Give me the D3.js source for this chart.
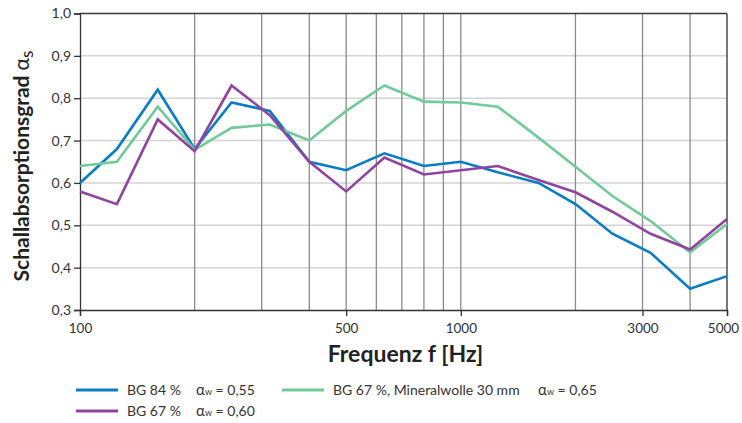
<!DOCTYPE html>
<html><head><meta charset="utf-8">
<script src="https://cdn.jsdelivr.net/npm/d3@7"></script>
<style>
body{margin:0;background:#fff;}
text{font-family:Lato,"Noto Sans",sans-serif;}
</style></head>
<body><svg id="c" width="742" height="423"></svg>
<script>
const freqs = [100,125,160,200,250,315,400,500,630,800,1000,1250,1600,2000,2500,3150,4000,5000];
const bg84 = [0.60,0.68,0.82,0.68,0.79,0.77,0.65,0.63,0.67,0.64,0.65,0.625,0.60,0.55,0.48,0.435,0.35,0.38];
const bg67 = [0.58,0.55,0.75,0.675,0.83,0.76,0.65,0.58,0.66,0.62,0.63,0.64,0.607,0.578,0.532,0.48,0.443,0.515];
const bg67mw = [0.64,0.65,0.78,0.678,0.73,0.738,0.70,0.77,0.83,0.792,0.79,0.78,0.707,0.638,0.569,0.51,0.436,0.503];
const xGrid = [200,300,400,500,600,700,800,900,1000,2000,3000,4000];
const xTicks = [100,500,1000,3000,5000];
const yTicks = [0.3,0.4,0.5,0.6,0.7,0.8,0.9,1.0];
const seriesNames = ["BG 84 %","BG 67 %","BG 67 %, Mineralwolle 30 mm"];
const seriesAlpha = ["0,55","0,60","0,65"];
const colors = ["#0a7cc4","#8f45a0","#72c99a"];

const svg = d3.select("#c");
const L=80,R=727,T=13.5,B=310;
const x = d3.scaleLog().domain([100,5000]).range([L,R]);
const y = d3.scaleLinear().domain([0.3,1.0]).range([B,T]);

svg.append("g").selectAll("line").data(yTicks.filter(v=>v>0.3 && v<1.0)).join("line")
  .attr("x1",L).attr("x2",R).attr("y1",d=>y(d)).attr("y2",d=>y(d))
  .attr("stroke","#d4d4d4").attr("stroke-width",1.5);
svg.append("g").selectAll("line").data(xGrid).join("line")
  .attr("x1",d=>x(d)).attr("x2",d=>x(d)).attr("y1",T).attr("y2",B)
  .attr("stroke","#8c8c8c").attr("stroke-width",1.3);

svg.append("line").attr("x1",L).attr("x2",R).attr("y1",T).attr("y2",T).attr("stroke","#3a3a3a").attr("stroke-width",1.3);
svg.append("line").attr("x1",R).attr("x2",R).attr("y1",T).attr("y2",B).attr("stroke","#3a2a2a").attr("stroke-width",1.3);

const yAxis = d3.axisLeft(y).tickValues(yTicks).tickSize(6).tickPadding(3)
  .tickFormat(d=>d3.format(".1f")(d).replace(".",","));
const gy = svg.append("g").attr("transform",`translate(${L},0)`).call(yAxis);
gy.select(".domain").attr("stroke","#333").attr("stroke-width",1.3);
gy.selectAll(".tick line").attr("stroke","#333").attr("stroke-width",1.3);
gy.selectAll(".tick text").attr("font-size",14).attr("fill","#333").attr("font-family","Lato");

const xAxis = d3.axisBottom(x).tickValues(xTicks).tickSize(6).tickPadding(7).tickFormat(d3.format("d"));
const gx = svg.append("g").attr("transform",`translate(0,${B})`).call(xAxis);
gx.select(".domain").attr("stroke","#333").attr("stroke-width",1.3);
gx.selectAll(".tick line").attr("stroke","#333").attr("stroke-width",1.3);
gx.selectAll(".tick text").attr("font-size",13.5).attr("fill","#333").attr("font-family","Lato")
  .attr("dx",d=>d===5000?-4:0);

const line = d3.line().x((d,i)=>x(freqs[i])).y(d=>y(d));
[[bg84,0],[bg67mw,2],[bg67,1]].forEach(([s,idx])=>{
  svg.append("path").datum(s).attr("d",line).attr("fill","none")
    .attr("stroke",colors[idx]).attr("stroke-width",2.6).attr("stroke-linejoin","miter");
});

svg.append("text").attr("x",(L+R)/2+2).attr("y",362).attr("text-anchor","middle")
  .attr("font-size",23).attr("font-weight","bold").attr("fill","#222").text("Frequenz f [Hz]");
const yt = svg.append("text").attr("transform",`translate(29,166) rotate(-90)`)
  .attr("text-anchor","middle").attr("font-size",21).attr("font-weight","bold").attr("fill","#222");
yt.append("tspan").text("Schallabsorptionsgrad ");
yt.append("tspan").attr("font-weight","normal").attr("font-size",21).text("α");
yt.append("tspan").attr("font-weight","normal").attr("font-size",17).attr("dy",4).text("s");

const legPos = [[76,390],[76,411],[282,390]];
seriesNames.forEach((n,i)=>{
  const [lx,ly]=legPos[i];
  svg.append("line").attr("x1",lx).attr("x2",lx+42).attr("y1",ly).attr("y2",ly)
    .attr("stroke",colors[i]).attr("stroke-width",3);
  svg.append("text").attr("x",lx+51).attr("y",ly+5).attr("font-size",14).attr("fill","#333").text(n);
  const ax = i===2 ? 538 : 196;
  const t = svg.append("text").attr("x",ax).attr("y",ly+5).attr("font-size",14).attr("fill","#333");
  t.append("tspan").attr("font-size",15).text("α");
  t.append("tspan").attr("font-size",9).text("w");
  t.append("tspan").text(" = "+seriesAlpha[i]);
});
</script></body></html>
